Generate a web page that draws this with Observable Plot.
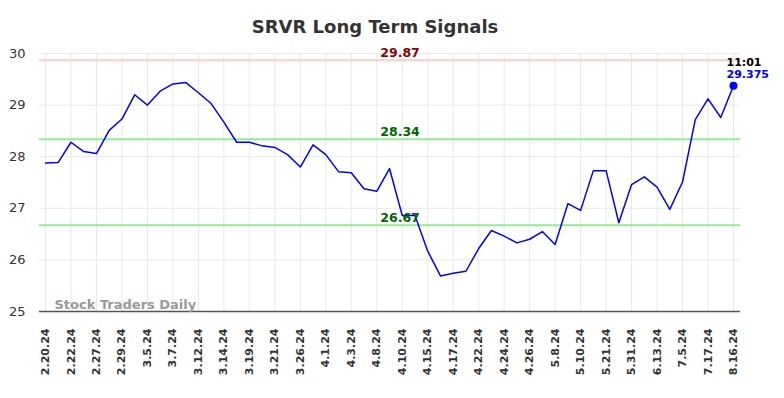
<!DOCTYPE html>
<html><head><meta charset="utf-8">
<script src="https://cdn.jsdelivr.net/npm/d3@7"></script>
<script src="https://cdn.jsdelivr.net/npm/@observablehq/plot@0.6"></script>
<style>
body{margin:0;background:#fff;font-family:"DejaVu Sans",sans-serif;}
#title{width:750px;height:40px;box-sizing:border-box;padding-top:18px;line-height:18px;font-weight:bold;font-size:18px;text-align:center;color:#333;font-family:"DejaVu Sans",sans-serif;}
</style></head><body>
<div id="title">SRVR Long Term Signals</div>
<div id="chart"></div>
<script>
const dateLabels = ["2.20.24","2.22.24","2.27.24","2.29.24","3.5.24","3.7.24","3.12.24","3.14.24","3.19.24","3.21.24","3.26.24","4.1.24","4.3.24","4.8.24","4.10.24","4.15.24","4.17.24","4.22.24","4.24.24","4.26.24","5.8.24","5.10.24","5.21.24","5.31.24","6.13.24","7.5.24","7.17.24","8.16.24"];
const prices = [27.88,27.89,28.28,28.10,28.06,28.51,28.73,29.20,29.00,29.27,
  29.41,29.44,29.24,29.03,28.67,28.28,28.28,28.21,28.18,28.04,
  27.80,28.23,28.04,27.71,27.69,27.38,27.33,27.77,26.86,26.86,
  26.17,25.69,25.74,25.78,26.22,26.57,26.46,26.33,26.40,26.55,
  26.30,27.09,26.96,27.73,27.73,26.72,27.46,27.61,27.41,26.98,
  27.51,28.72,29.12,28.76,29.375];
const signalLevels = [29.87, 28.34, 26.67];
const signalLabels = ["29.87", "28.34", "26.67"];
const signalColors = ["#ffcccc", "#90ee90", "#90ee90"];
const signalTextColors = ["#8b0000", "#006400", "#006400"];
const yTicks = [25, 26, 27, 28, 29, 30];
const lastTime = "11:01";
const lastLabel = "29.375";
const watermark = "Stock Traders Daily";

const data = prices.map((p, i) => ({i, p}));
const tickIdx = dateLabels.map((d, k) => k * 2);
const signals = signalLevels.map((v, k) => ({v, label: signalLabels[k], stroke: signalColors[k], color: signalTextColors[k]}));
const last = [data[data.length - 1]];

const chart = Plot.plot({
  width: 784,
  height: 358,
  marginTop: 13,
  marginBottom: 87,
  marginLeft: 39,
  marginRight: 44,
  style: {fontFamily: "DejaVu Sans", fontSize: "13px", color: "#333", background: "#fff"},
  x: {domain: [0, prices.length - 1], insetLeft: 6, insetRight: 7},
  y: {domain: [25, 30]},
  marks: [
    Plot.gridY(yTicks, {stroke: "#e8e8e8", strokeOpacity: 1, strokeWidth: 1}),
    Plot.gridX(tickIdx, {stroke: "#e8e8e8", strokeOpacity: 1, strokeWidth: 1}),
    Plot.ruleY(signals, {y: "v", stroke: "stroke", strokeWidth: 2}),
    Plot.ruleY([25], {stroke: "#555", strokeWidth: 1.5}),
    Plot.line(data, {x: "i", y: "p", stroke: "#0000ff", strokeWidth: 1.5}),
    Plot.dot(last, {x: "i", y: "p", r: 4, fill: "#0000ff"}),
    Plot.text(signals, {y: "v", text: "label", fill: "color", frameAnchor: "middle", dx: 10, dy: -3, lineAnchor: "bottom", fontWeight: "bold", fontSize: 12.5}),
    Plot.text(last, {x: "i", y: "p", text: () => lastLabel, fill: "#0000ff", textAnchor: "start", dx: -7, dy: -8, lineAnchor: "bottom", fontWeight: "bold", fontSize: 11}),
    Plot.text(last, {x: "i", y: "p", text: () => lastTime, fill: "#000", textAnchor: "start", dx: -7, dy: -20, lineAnchor: "bottom", fontWeight: "bold", fontSize: 11}),
    Plot.text([watermark], {frameAnchor: "bottom-left", textAnchor: "start", dx: 15, dy: -3, lineAnchor: "bottom", fill: "#999", fontWeight: "bold", fontSize: 13}),
    Plot.axisY({ticks: yTicks, tickFormat: d3.format("d"), tickSize: 0, tickPadding: 14, fontSize: 13, label: null}),
    Plot.axisX({ticks: tickIdx, tickFormat: i => dateLabels[i / 2], tickRotate: -90, tickSize: 0, tickPadding: 17, fontSize: 11, fontWeight: "bold", label: null})
  ]
});
document.getElementById("chart").appendChild(chart);
</script>
</body></html>
